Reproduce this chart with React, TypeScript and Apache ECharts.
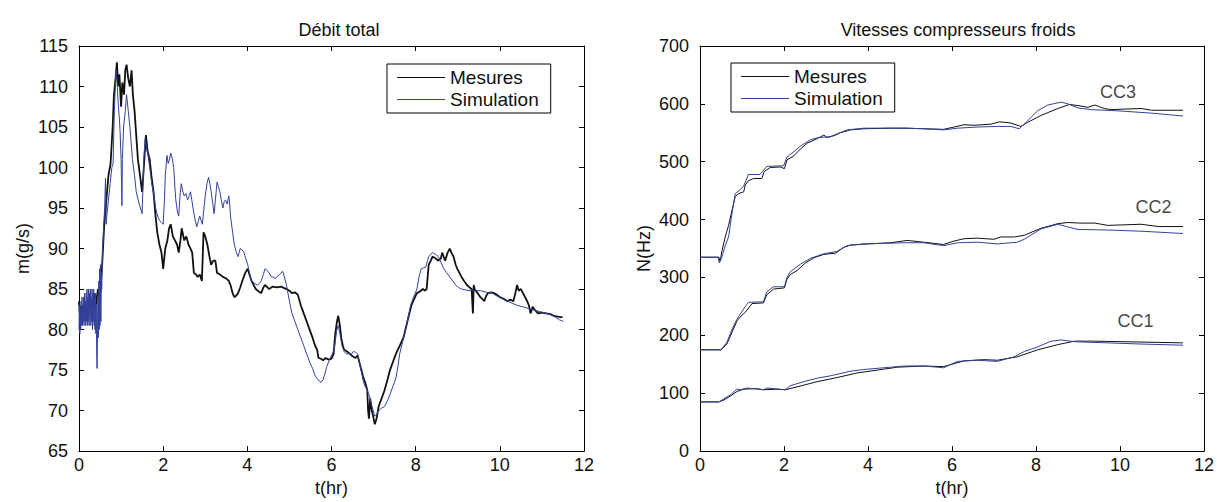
import React, { useEffect, useRef } from "react";
import * as echarts from "echarts";

const FONT = "'Liberation Sans', Arial, Helvetica, sans-serif";

// ---- Débit total (left) ----
const debitMesures: [number, number][] = [
  [0, 83.5], [0.03, 81], [0.06, 83], [0.1, 81.5], [0.15, 83.5], [0.2, 82], [0.25, 84], [0.3, 82.5], [0.35, 84.5], [0.4, 83], [0.45, 85], [0.5, 84],
  [0.55, 88], [0.6, 93], [0.65, 96], [0.7, 99], [0.75, 100.5], [0.8, 105], [0.83, 109], [0.87, 111], [0.9, 113], [0.93, 110], [0.96, 111.5],
  [1.0, 107.5], [1.03, 110.5], [1.07, 109], [1.1, 112], [1.13, 112.7], [1.17, 111], [1.21, 110], [1.25, 112], [1.28, 109], [1.32, 107],
  [1.36, 104], [1.4, 101], [1.45, 99], [1.5, 97], [1.54, 100], [1.59, 104], [1.63, 102], [1.68, 101], [1.72, 99], [1.77, 97], [1.82, 94],
  [1.86, 92], [1.91, 90.5], [1.96, 89.5], [2.0, 87.5], [2.05, 90], [2.1, 91], [2.14, 92.5], [2.18, 93], [2.23, 91.5], [2.28, 91], [2.33, 90.5],
  [2.37, 89.5], [2.41, 91], [2.44, 92.5], [2.5, 91], [2.55, 91.5], [2.6, 90.5], [2.65, 90], [2.69, 89.5], [2.73, 87], [2.78, 86.8], [2.82, 86.5],
  [2.87, 86.8], [2.92, 86], [2.96, 92], [3.0, 91.5], [3.05, 90.5], [3.1, 89], [3.14, 88], [3.19, 88.5], [3.24, 88.5], [3.28, 87], [3.35, 86.8],
  [3.42, 86.5], [3.5, 86.3], [3.56, 86], [3.6, 85.5], [3.65, 84.5], [3.69, 84], [3.74, 84.2], [3.78, 84.5], [3.83, 85.2], [3.88, 86], [3.95, 87],
  [4.01, 87.5], [4.05, 86.8], [4.1, 86], [4.15, 85.5], [4.2, 85], [4.27, 84.7], [4.33, 84.5], [4.38, 85.2], [4.42, 85.5], [4.52, 85], [4.6, 85.3],
  [4.7, 85.2], [4.8, 85.3], [4.93, 85], [5.0, 84.8], [5.06, 84.5], [5.13, 84.6], [5.2, 84.3], [5.27, 83], [5.34, 82], [5.41, 81], [5.48, 80],
  [5.55, 79], [5.61, 78], [5.66, 77.5], [5.69, 76.5], [5.75, 76.4], [5.8, 76.2], [5.86, 76.5], [5.93, 76.3], [6.0, 76.4], [6.05, 77], [6.09, 79.5],
  [6.13, 81], [6.16, 81.7], [6.2, 80.5], [6.23, 79], [6.27, 78], [6.3, 77.5], [6.37, 77.3], [6.44, 77], [6.5, 76.7], [6.57, 76.5], [6.62, 76.8],
  [6.66, 76], [6.71, 75], [6.76, 74], [6.8, 73.5], [6.85, 72.5], [6.87, 70], [6.89, 69], [6.92, 71.5], [6.94, 70.5], [6.98, 69.5], [7.03, 68.3],
  [7.07, 69], [7.12, 70.5], [7.19, 71.5], [7.26, 72.5], [7.33, 73.8], [7.39, 75], [7.46, 76], [7.53, 77], [7.62, 78], [7.71, 79], [7.78, 80.5],
  [7.85, 82], [7.9, 83], [7.94, 83.5], [8.03, 84.5], [8.1, 84.7], [8.17, 85], [8.22, 84.8], [8.26, 85], [8.31, 88], [8.36, 88.5], [8.4, 89],
  [8.47, 88.8], [8.54, 88.5], [8.6, 88.8], [8.63, 89.5], [8.7, 88.5], [8.76, 89.5], [8.81, 90], [8.85, 89.5], [8.9, 89], [8.95, 88], [8.99, 87.5],
  [9.04, 87], [9.09, 86.5], [9.15, 86], [9.22, 85.5], [9.28, 85.2], [9.33, 85], [9.36, 82], [9.38, 85.5], [9.4, 85], [9.47, 84.5], [9.54, 84],
  [9.58, 83.8], [9.63, 83.5], [9.68, 84.2], [9.72, 84.5], [9.8, 84.6], [9.86, 84.5], [9.93, 84.3], [10.0, 84], [10.09, 83.8], [10.18, 83.5],
  [10.25, 83.7], [10.32, 83.5], [10.37, 84.5], [10.41, 85.5], [10.45, 84.8], [10.5, 85], [10.55, 84.5], [10.6, 84], [10.65, 83.5], [10.69, 83],
  [10.73, 82], [10.78, 82.8], [10.82, 82.5], [10.87, 82.2], [10.91, 82], [11.0, 82.1], [11.1, 82], [11.2, 81.9], [11.28, 81.7], [11.38, 81.6],
  [11.49, 81.5],
];

const debitSimulation: [number, number][] = [
  [0.0, 80], [0.01, 83], [0.02, 79.5], [0.03, 82.5], [0.04, 80], [0.05, 83.5], [0.06, 80.5], [0.07, 84], [0.08, 80.5], [0.09, 83], [0.1, 81],
  [0.11, 84], [0.12, 80.5], [0.13, 84.5], [0.14, 81], [0.15, 83.5], [0.16, 80.5], [0.17, 84.5], [0.18, 81], [0.19, 85], [0.2, 80.5], [0.21, 84],
  [0.22, 81], [0.23, 85], [0.24, 80.5], [0.25, 84.5], [0.26, 81.5], [0.27, 85], [0.28, 80.5], [0.29, 84], [0.3, 81], [0.31, 85], [0.32, 80],
  [0.33, 84.5], [0.34, 81], [0.35, 85], [0.36, 80.5], [0.37, 84], [0.38, 80], [0.39, 84.5], [0.4, 79.5], [0.41, 83], [0.42, 77], [0.43, 75.2],
  [0.44, 80], [0.45, 84], [0.46, 79], [0.47, 86], [0.48, 80], [0.49, 87.5], [0.5, 80.5], [0.51, 88], [0.52, 81], [0.53, 87], [0.54, 85],
  [0.55, 88], [0.58, 92], [0.61, 95], [0.63, 98.7], [0.645, 93], [0.66, 94], [0.7, 96], [0.74, 98], [0.78, 100], [0.81, 100.5], [0.84, 107],
  [0.88, 112], [0.91, 110], [0.93, 108], [0.96, 106], [0.98, 104], [1.0, 101], [1.02, 95.3], [1.03, 101], [1.06, 105], [1.1, 107], [1.13, 109],
  [1.17, 107], [1.21, 105], [1.27, 101], [1.32, 99], [1.36, 97], [1.43, 95.5], [1.5, 94.3], [1.54, 101], [1.57, 103.5], [1.6, 102.5],
  [1.64, 101.5], [1.68, 100], [1.73, 98], [1.78, 96.5], [1.82, 95], [1.87, 94], [1.91, 93.5], [1.96, 93.2], [2.0, 93], [2.03, 96], [2.05, 99],
  [2.09, 101.5], [2.12, 100.5], [2.14, 100.8], [2.18, 101.8], [2.22, 101], [2.25, 100], [2.28, 97.5], [2.3, 96], [2.34, 94.5], [2.37, 94],
  [2.4, 96.5], [2.43, 98], [2.47, 97], [2.5, 96.5], [2.54, 96.8], [2.58, 96], [2.62, 96.5], [2.65, 97], [2.68, 96], [2.71, 95], [2.76, 93.5],
  [2.8, 92.7], [2.84, 93.5], [2.87, 94], [2.9, 93.5], [2.93, 93], [2.97, 95], [3.0, 96.5], [3.04, 98], [3.08, 98.8], [3.11, 98], [3.14, 97],
  [3.18, 95.5], [3.21, 94.3], [3.25, 96.5], [3.28, 98.2], [3.32, 97.5], [3.35, 97], [3.38, 96], [3.42, 95], [3.45, 95.8], [3.48, 96],
  [3.52, 95.5], [3.56, 96.5], [3.58, 95.5], [3.6, 94], [3.65, 92], [3.69, 90.5], [3.74, 89.5], [3.78, 89], [3.83, 90], [3.88, 89.8],
  [3.92, 89.5], [3.96, 88.8], [4.01, 88], [4.05, 87], [4.1, 86], [4.17, 85.7], [4.24, 85.5], [4.29, 85.7], [4.33, 86], [4.38, 86.8],
  [4.42, 87.5], [4.47, 87.3], [4.52, 87], [4.57, 86.5], [4.61, 86.5], [4.66, 86.3], [4.7, 86.5], [4.77, 86.8], [4.84, 87.2], [4.88, 86.5],
  [4.93, 85.5], [5.0, 83.5], [5.06, 82], [5.13, 81], [5.2, 80], [5.27, 79], [5.34, 78], [5.41, 77], [5.48, 76], [5.55, 75.2], [5.61, 74.3],
  [5.68, 73.8], [5.75, 73.5], [5.8, 73.8], [5.84, 74.5], [5.88, 75.3], [5.93, 76], [5.98, 76.6], [6.02, 77], [6.06, 77.5], [6.09, 78.5],
  [6.12, 79.8], [6.16, 80.5], [6.2, 79.5], [6.25, 78], [6.3, 77.3], [6.35, 77], [6.42, 77], [6.48, 77], [6.52, 77.3], [6.57, 77.2], [6.62, 77],
  [6.66, 76], [6.71, 74.8], [6.76, 73.5], [6.8, 73], [6.85, 72.5], [6.9, 71.8], [6.94, 71], [6.98, 70.2], [7.03, 69.3], [7.07, 69.5], [7.12, 70],
  [7.19, 70.3], [7.26, 70.5], [7.33, 71.2], [7.39, 72], [7.46, 73], [7.53, 74], [7.58, 75.5], [7.62, 77], [7.69, 78.5], [7.76, 80], [7.82, 81.5],
  [7.88, 83], [7.95, 84], [8.03, 85], [8.08, 86.5], [8.13, 87.5], [8.18, 87.6], [8.24, 87.7], [8.28, 88.5], [8.31, 89], [8.36, 89.3], [8.4, 89.5],
  [8.47, 89.3], [8.54, 89], [8.6, 88.3], [8.67, 87.5], [8.74, 87], [8.81, 86.5], [8.88, 86], [8.95, 85.5], [9.02, 85.2], [9.09, 85], [9.18, 84.9],
  [9.27, 84.8], [9.4, 84.8], [9.54, 84.8], [9.68, 84.6], [9.82, 84.5], [9.91, 84.2], [10.0, 84], [10.13, 83.6], [10.27, 83.3], [10.41, 83],
  [10.55, 82.8], [10.68, 82.6], [10.82, 82.4], [10.96, 82.2], [11.1, 82], [11.22, 81.8], [11.33, 81.5], [11.42, 81.2], [11.51, 81],
];

// ---- Vitesses compresseurs froids (right) ----
const cc3Mesures: [number, number][] = [
  [0, 335], [0.45, 335], [0.48, 328], [0.52, 345], [0.6, 370], [0.68, 390], [0.76, 415], [0.84, 440], [0.92, 445], [1.04, 448], [1.08, 460],
  [1.15, 467], [1.27, 471], [1.47, 471], [1.53, 483], [1.67, 490], [1.91, 491], [2.01, 488], [2.07, 503], [2.23, 510], [2.39, 522], [2.55, 532],
  [2.79, 540], [2.95, 546], [3.02, 542], [3.19, 545], [3.34, 550], [3.58, 555], [3.9, 557], [4.54, 558], [4.93, 558], [5.33, 557], [5.8, 556],
  [6.05, 560], [6.29, 564], [6.53, 563], [6.93, 565], [7.13, 569], [7.4, 567], [7.64, 561], [7.8, 568], [8.12, 580], [8.52, 592], [8.8, 599],
  [9.0, 597], [9.24, 594], [9.4, 598], [9.63, 592], [9.79, 590], [10.1, 591], [10.5, 592], [10.75, 589], [11.5, 589],
];
const cc3Simulation: [number, number][] = [
  [0, 335], [0.43, 335], [0.46, 325], [0.52, 335], [0.6, 355], [0.68, 370], [0.76, 410], [0.84, 445], [0.96, 452], [1.04, 458], [1.15, 478],
  [1.43, 478], [1.59, 492], [1.99, 493], [2.07, 508], [2.23, 517], [2.39, 527], [2.63, 538], [2.83, 542], [3.1, 543], [3.26, 548], [3.5, 555],
  [3.9, 558], [4.86, 558], [5.33, 557], [5.8, 555], [6.13, 558], [6.6, 560], [7.08, 561], [7.4, 561], [7.6, 557], [7.72, 565], [8.04, 588],
  [8.28, 598], [8.6, 603], [8.76, 600], [9.0, 593], [9.32, 590], [9.95, 588], [10.75, 584], [11.5, 579],
];
const cc2Mesures: [number, number][] = [
  [0, 175], [0.5, 175], [0.64, 185], [0.76, 205], [0.88, 225], [1.0, 235], [1.08, 240], [1.24, 255], [1.51, 256], [1.59, 270], [1.75, 280],
  [2.01, 282], [2.07, 297], [2.15, 305], [2.31, 312], [2.51, 325], [2.71, 334], [2.95, 340], [3.23, 342], [3.42, 352], [3.58, 356], [3.98, 358],
  [4.54, 360], [4.93, 364], [5.33, 361], [5.8, 357], [6.05, 363], [6.29, 367], [6.6, 368], [7.0, 366], [7.16, 370], [7.48, 370], [7.72, 373],
  [8.12, 385], [8.52, 393], [8.76, 395], [9.04, 394], [9.4, 394], [9.71, 390], [10.5, 392], [10.91, 388], [11.5, 388],
];
const cc2Simulation: [number, number][] = [
  [0, 175], [0.5, 175], [0.64, 188], [0.76, 210], [0.88, 228], [1.08, 250], [1.15, 257], [1.51, 258], [1.59, 275], [1.75, 284], [2.01, 284],
  [2.07, 300], [2.15, 310], [2.39, 323], [2.63, 333], [2.95, 341], [3.26, 345], [3.5, 355], [3.9, 358], [4.86, 360], [5.33, 360], [5.8, 355],
  [6.13, 360], [6.6, 361], [7.08, 358], [7.56, 361], [7.72, 366], [8.12, 384], [8.52, 392], [8.72, 388], [9.0, 383], [9.71, 382], [10.5, 380],
  [11.5, 376],
];
const cc1Mesures: [number, number][] = [
  [0, 85], [0.45, 85], [0.56, 88], [0.72, 95], [0.88, 103], [1.04, 107], [1.35, 108], [1.51, 106], [1.83, 107], [2.03, 106], [2.31, 111],
  [2.79, 120], [3.26, 127], [3.74, 135], [4.22, 140], [4.7, 145], [5.33, 147], [5.8, 146], [6.29, 156], [6.76, 158], [7.08, 157], [7.56, 163],
  [8.04, 175], [8.52, 184], [8.92, 190], [9.32, 190], [10.1, 189], [11.5, 187],
];
const cc1Simulation: [number, number][] = [
  [0, 85], [0.45, 85], [0.56, 90], [0.72, 97], [0.88, 107], [0.96, 106], [1.12, 109], [1.51, 106], [1.59, 109], [2.03, 106], [2.15, 113],
  [2.47, 120], [2.79, 126], [3.1, 130], [3.58, 138], [3.9, 141], [4.38, 144], [4.86, 147], [5.33, 147], [5.8, 144], [6.13, 155], [6.6, 157],
  [7.08, 155], [7.48, 163], [7.72, 172], [8.04, 180], [8.36, 190], [8.6, 192], [8.92, 189], [9.71, 187], [10.5, 185], [11.5, 183],
];

const ccLabels: [number, number, string][] = [
  [9.95, 621, "CC3"],
  [10.8, 422, "CC2"],
  [10.37, 225, "CC1"],
];

const legendNames = ["Mesures", "Simulation"];
const titles = ["Débit total", "Vitesses compresseurs froids"];
const yNames = ["m(g/s)", "N(Hz)"];
const xName = "t(hr)";

const BLACK = "#111111";
const BLUE = "#33419c";

export default function App() {
  const ref = useRef<HTMLDivElement>(null);
  useEffect(() => {
    if (!ref.current) return;
    const chart = echarts.init(ref.current, null, { renderer: "svg" });
    const txt = { color: "#111", fontSize: 18, fontFamily: FONT };
    const grids = [
      { left: 79, top: 46, width: 505, height: 414 },
      { left: 700, top: 46, width: 507, height: 414 },
    ];
    const axisLine = { show: true, onZero: false, lineStyle: { color: "#000", width: 1 } };
    const tick = { show: true, inside: true, length: 5, lineStyle: { color: "#000" } };
    const xAxes: any[] = [];
    const yAxes: any[] = [];
    const yRanges = [
      { min: 65, max: 115, interval: 5 },
      { min: 0, max: 700, interval: 100 },
    ];
    [0, 1].forEach((g) => {
      xAxes.push({
        type: "value", gridIndex: g, min: 0, max: 12, interval: 2, position: "bottom",
        axisLine, axisTick: tick, splitLine: { show: false },
        axisLabel: { ...txt, margin: 5 },
        name: xName, nameLocation: "middle", nameGap: 24, nameTextStyle: txt,
      });
      xAxes.push({
        type: "value", gridIndex: g, min: 0, max: 12, interval: 2, position: "top",
        axisLine, axisTick: tick, splitLine: { show: false }, axisLabel: { show: false },
      });
      yAxes.push({
        type: "value", gridIndex: g, ...yRanges[g], position: "left",
        axisLine, axisTick: tick, splitLine: { show: false },
        axisLabel: { ...txt, margin: 11 },
        name: yNames[g], nameLocation: "middle", nameRotate: 90, nameGap: 47, nameTextStyle: txt,
      });
      yAxes.push({
        type: "value", gridIndex: g, ...yRanges[g], position: "right",
        axisLine, axisTick: tick, splitLine: { show: false }, axisLabel: { show: false },
      });
    });

    const line = (name: string, data: [number, number][], g: number, color: string, width: number) => ({
      type: "line", name, data, xAxisIndex: g * 2, yAxisIndex: g * 2,
      showSymbol: false, symbol: "none", lineStyle: { color, width }, itemStyle: { color },
      silent: true,
    });

    const series: any[] = [
      line("Mesures", debitMesures, 0, BLACK, 1.8),
      line("Simulation", debitSimulation, 0, BLUE, 1),
      line("Mesures", cc3Mesures, 1, BLACK, 1),
      line("Mesures", cc2Mesures, 1, BLACK, 1),
      line("Mesures", cc1Mesures, 1, BLACK, 1),
      line("Simulation", cc3Simulation, 1, BLUE, 1),
      line("Simulation", cc2Simulation, 1, BLUE, 1),
      line("Simulation", cc1Simulation, 1, BLUE, 1),
      {
        type: "scatter", name: "labels", xAxisIndex: 2, yAxisIndex: 2,
        data: ccLabels, symbolSize: 1, itemStyle: { color: "rgba(0,0,0,0)" }, silent: true,
        label: { show: true, position: "inside", formatter: (p: any) => p.value[2], ...txt },
      },
    ];

    const legendBase = {
      orient: "vertical",
      data: legendNames.map((n) => ({ name: n, icon: "rect" })),
      selectedMode: false,
      borderColor: "#000", borderWidth: 1, backgroundColor: "#fff",
      padding: [4, 12, 4, 10], itemGap: 3, itemWidth: 48, itemHeight: 1,
      textStyle: { ...txt, fontSize: 19 },
    };

    chart.setOption({
      animation: false,
      backgroundColor: "#fff",
      textStyle: { fontFamily: FONT },
      title: [
        { text: titles[0], left: 334, top: 16, textAlign: "center", textStyle: { ...txt, fontWeight: "normal" } },
        { text: titles[1], left: 953, top: 16, textAlign: "center", textStyle: { ...txt, fontWeight: "normal" } },
      ],
      legend: [
        { ...legendBase, left: 387, top: 64 },
        { ...legendBase, left: 731, top: 63 },
      ],
      grid: grids,
      xAxis: xAxes,
      yAxis: yAxes,
      series,
    });
    return () => chart.dispose();
  }, []);
  return <div ref={ref} style={{ position: "fixed", left: 0, top: 0, width: 1217, height: 502, background: "#fff" }} />;
}
